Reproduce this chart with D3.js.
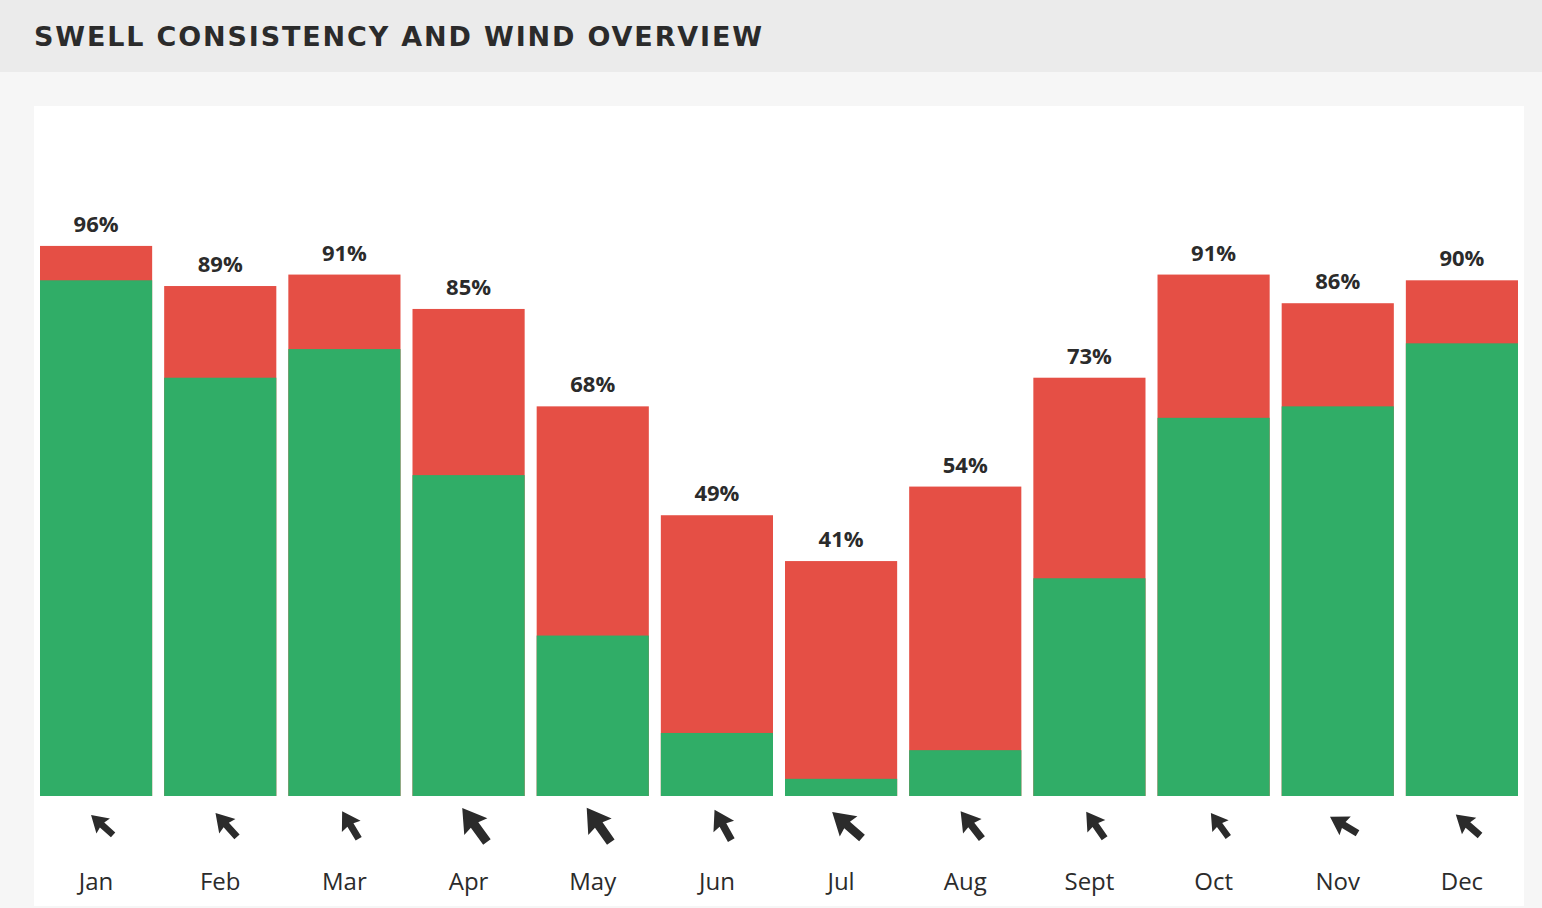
<!DOCTYPE html>
<html>
<head>
<meta charset="utf-8">
<script src="https://cdn.jsdelivr.net/npm/d3@7"></script>
<style>
    body { margin: 0; background: #f6f6f6; }
</style>
</head>
<body>
<div id="wrapper"></div>
<script>
// monthly data
const months = ["Jan", "Feb", "Mar", "Apr", "May", "Jun", "Jul", "Aug", "Sept", "Oct", "Nov", "Dec"];
const swellTotal = [96, 89, 91, 85, 68, 49, 41, 54, 73, 91, 86, 90];
const swellClean = [90, 73, 78, 56, 28, 11, 3, 8, 38, 66, 68, 79];
// wind: direction the arrow points (deg, clockwise from north) and relative strength
const windDir = [-48, -42, -31, -36, -35, -29, -49, -38, -35, -36, -59, -49];
const windSpeed = [12, 13, 13, 17, 17, 14, 16, 14, 13, 12, 13, 13];

function buildPlot() {
    const dimension = {
        width: 1542,
        height: 908,
        headerHeight: 72,
        panel: { left: 34, top: 106, right: 1524, bottom: 906 }
    };

    const svg = d3.select("#wrapper").append("svg")
        .attr("width", dimension.width)
        .attr("height", dimension.height)
        .style("display", "block");

    // header + panel
    svg.append("rect")
        .attr("width", dimension.width)
        .attr("height", dimension.height)
        .attr("fill", "#f6f6f6");
    svg.append("rect")
        .attr("width", dimension.width)
        .attr("height", dimension.headerHeight)
        .attr("fill", "#ebebeb");
    svg.append("text")
        .attr("x", 34)
        .attr("y", 46)
        .attr("font-family", "'DejaVu Sans', sans-serif")
        .attr("font-weight", "bold")
        .attr("font-size", 27)
        .attr("textLength", 728)
        .attr("lengthAdjust", "spacing")
        .attr("fill", "#2b2b2b")
        .text("SWELL CONSISTENCY AND WIND OVERVIEW");

    const p = dimension.panel;
    svg.append("rect")
        .attr("x", p.left)
        .attr("y", p.top)
        .attr("width", p.right - p.left)
        .attr("height", p.bottom - p.top)
        .attr("fill", "#ffffff");

    const xScaler = d3.scaleBand()
        .domain(months)
        .range([40, 1518])
        .paddingInner(12 / 124);

    const yScaler = d3.scaleLinear()
        .domain([0, 100])
        .range([796, 223]);

    const sizeScaler = d3.scaleLinear()
        .domain([0, 17])
        .range([0, 42]);

    const data = months.map((m, i) => ({
        month: m,
        total: swellTotal[i],
        clean: swellClean[i],
        dir: windDir[i],
        speed: windSpeed[i]
    }));

    const bars = svg.append("g");

    // total (red) bars
    bars.selectAll(".total")
        .data(data)
        .join("rect")
        .attr("x", d => xScaler(d.month))
        .attr("width", xScaler.bandwidth())
        .attr("y", d => yScaler(d.total))
        .attr("height", d => yScaler(0) - yScaler(d.total))
        .attr("fill", "#e54f45");

    // clean (green) part
    bars.selectAll(".clean")
        .data(data)
        .join("rect")
        .attr("x", d => xScaler(d.month))
        .attr("width", xScaler.bandwidth())
        .attr("y", d => yScaler(d.clean))
        .attr("height", d => yScaler(0) - yScaler(d.clean))
        .attr("fill", "#30ad67");

    // value labels
    svg.append("g").selectAll("text")
        .data(data)
        .join("text")
        .attr("x", d => xScaler(d.month) + xScaler.bandwidth() / 2)
        .attr("y", d => yScaler(d.total) - 14)
        .attr("text-anchor", "middle")
        .attr("font-family", "'Open Sans', sans-serif")
        .attr("font-weight", "bold")
        .attr("font-size", 22)
        .attr("fill", "#2b2b2b")
        .text(d => d.total + "%");

    // wind arrows, unit shape pointing up
    const arrowShape = [[0, -0.5], [0.34, 0.05], [0.11, 0.0], [0.11, 0.5],
                        [-0.11, 0.5], [-0.11, 0.0], [-0.34, 0.05]];

    svg.append("g").selectAll("path")
        .data(data)
        .join("path")
        .attr("d", d => {
            const s = sizeScaler(d.speed);
            return d3.line()(arrowShape.map(pt => [pt[0] * s, pt[1] * s])) + "Z";
        })
        .attr("transform", d => `translate(${xScaler(d.month) + xScaler.bandwidth() / 2 + 6},825) rotate(${d.dir})`)
        .attr("fill", "#2b2b2b");

    // month labels
    svg.append("g").selectAll("text")
        .data(data)
        .join("text")
        .attr("x", d => xScaler(d.month) + xScaler.bandwidth() / 2)
        .attr("y", 890)
        .attr("text-anchor", "middle")
        .attr("font-family", "'Open Sans', sans-serif")
        .attr("font-size", 24)
        .attr("fill", "#2b2b2b")
        .text(d => d.month);
}

buildPlot();
</script>
</body>
</html>
